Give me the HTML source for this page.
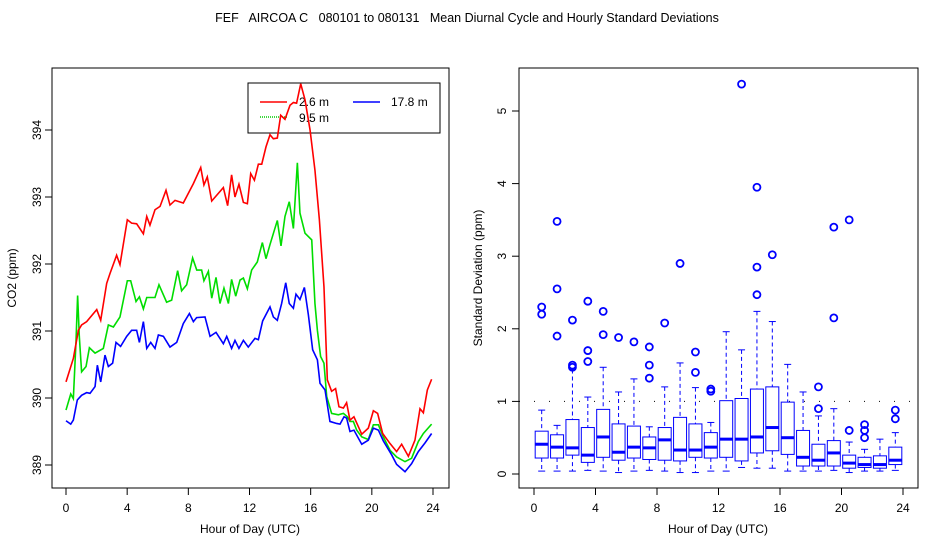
<!DOCTYPE html>
<html><head><meta charset="utf-8"><style>
body{margin:0;background:#fff}
svg{display:block;font-family:"Liberation Sans",sans-serif}
</style></head><body>
<svg id="c" width="936" height="540">
<text x="467" y="22" font-size="12.5" text-anchor="middle" style="white-space:pre" xml:space="preserve">FEF   AIRCOA C   080101 to 080131   Mean Diurnal Cycle and Hourly Standard Deviations</text>
<g id="left"></g>
<g id="right"></g>
</svg>
<script>
// ---- left chart data ----
const redHours=[0,0.48,0.81,1.02,1.35,2.01,2.27,2.66,2.88,3.31,3.53,4.01,4.29,4.62,5.06,5.28,5.49,5.82,6.15,6.54,6.8,7.13,7.67,8.33,8.81,9.02,9.24,9.53,10.29,10.57,10.83,11.05,11.31,11.6,11.86,12.08,12.32,12.58,12.8,13.08,13.34,13.56,13.82,14.04,14.32,14.65,14.87,15.08,15.35,15.63,15.96,16.28,16.57,16.87,17.09,17.37,17.63,17.85,18.14,18.35,18.57,18.83,19.34,19.77,20.1,20.38,20.71,21.19,21.62,21.95,22.39,22.82,23.15,23.37,23.63,23.91];
const redVals=[390.24,390.59,391.01,391.09,391.14,391.32,391.16,391.71,391.86,392.13,391.99,392.66,392.61,392.6,392.45,392.71,392.58,392.81,392.86,393.1,392.88,392.95,392.91,393.2,393.44,393.18,393.3,392.94,393.14,392.87,393.33,393.0,393.19,392.92,392.9,393.35,393.25,393.49,393.49,393.75,393.93,393.87,393.88,394.22,394.16,394.37,394.41,394.4,394.69,394.45,394.0,393.4,392.66,391.66,390.27,390.1,390.14,389.87,389.85,389.93,389.67,389.72,389.46,389.55,389.81,389.77,389.47,389.32,389.2,389.31,389.13,389.37,389.84,389.78,390.12,390.28];
const greenHours=[0,0.31,0.48,0.65,0.76,0.87,1.02,1.31,1.53,1.9,2.44,2.77,3.1,3.53,4.01,4.23,4.58,4.8,5.06,5.28,5.82,6.08,6.58,6.91,7.3,7.56,7.89,8.28,8.55,8.87,9.02,9.31,9.53,9.81,10.07,10.33,10.62,10.83,11.1,11.38,11.6,11.86,12.14,12.51,12.84,13.08,13.34,13.82,14.06,14.32,14.6,14.87,15.13,15.3,15.63,16.07,16.28,16.44,16.65,16.87,17.05,17.37,17.81,18.14,18.4,18.57,18.79,19.01,19.34,19.77,20.1,20.43,20.75,21.19,21.62,22.17,22.6,23.04,23.37,23.91];
const greenVals=[389.82,390.06,389.99,390.82,391.53,390.92,390.39,390.47,390.75,390.67,390.74,391.09,391.06,391.21,391.75,391.75,391.44,391.51,391.33,391.5,391.5,391.69,391.43,391.46,391.9,391.6,391.69,392.09,391.91,391.91,391.75,391.89,391.49,391.8,391.41,391.64,391.41,391.77,391.52,391.76,391.79,391.63,391.91,392.03,392.32,392.08,392.29,392.65,392.27,392.71,392.93,392.53,393.51,392.76,392.46,392.36,391.41,391.01,390.62,390.52,390.02,389.77,389.75,389.77,389.72,389.65,389.65,389.52,389.42,389.38,389.6,389.6,389.42,389.22,389.12,389.05,389.1,389.35,389.47,389.61];
const blueHours=[0,0.31,0.48,0.74,1.02,1.35,1.57,1.9,2.05,2.27,2.55,2.77,3.05,3.27,3.57,3.97,4.29,4.62,4.8,5.06,5.28,5.54,5.82,6.04,6.37,6.8,7.24,7.67,8.07,8.33,8.54,9.09,9.42,9.81,10.29,10.51,10.83,11.05,11.31,11.6,11.92,12.36,12.58,12.86,13.34,13.56,13.82,14.1,14.37,14.6,14.87,15.04,15.3,15.59,15.85,16.13,16.44,16.61,16.94,17.26,17.7,17.92,18.18,18.35,18.57,18.83,19.34,19.77,20.1,20.43,20.75,21.3,21.62,22.17,22.6,23.04,23.48,23.91];
const blueVals=[389.66,389.61,389.67,389.97,390.04,390.08,390.07,390.17,390.49,390.24,390.64,390.47,390.52,390.83,390.77,390.92,391.01,391.01,390.83,391.14,390.74,390.83,390.74,390.94,390.92,390.76,390.83,391.11,391.26,391.14,391.2,391.21,390.92,390.98,390.81,390.92,390.74,390.86,390.74,390.86,390.76,390.89,390.87,391.15,391.36,391.21,391.16,391.41,391.72,391.41,391.34,391.55,391.47,391.65,391.24,390.72,390.57,390.22,390.12,389.65,389.62,389.61,389.72,389.7,389.5,389.52,389.31,389.37,389.55,389.52,389.36,389.15,389.01,388.9,389.02,389.2,389.33,389.47];
const xTicks=[0,4,8,12,16,20,24];
const leftYTicks=[389,390,391,392,393,394];
// ---- right chart data ----
const boxHours=[0.5,1.5,2.5,3.5,4.5,5.5,6.5,7.5,8.5,9.5,10.5,11.5,12.5,13.5,14.5,15.5,16.5,17.5,18.5,19.5,20.5,21.5,22.5,23.5];
const whiskerLow=[0.04,0.04,0.04,0.05,0.04,0.02,0.04,0.05,0.04,0.02,0.02,0.04,0.04,0.09,0.08,0.08,0.04,0.04,0.04,0.05,0.02,0.04,0.04,0.05];
const q1=[0.22,0.22,0.26,0.16,0.23,0.19,0.22,0.2,0.19,0.18,0.23,0.22,0.23,0.18,0.29,0.32,0.27,0.11,0.11,0.11,0.08,0.09,0.08,0.13];
const medians=[0.41,0.37,0.36,0.26,0.51,0.3,0.37,0.36,0.47,0.33,0.33,0.37,0.48,0.48,0.51,0.64,0.5,0.23,0.19,0.29,0.15,0.13,0.13,0.19];
const q3=[0.59,0.54,0.75,0.64,0.89,0.69,0.66,0.51,0.64,0.78,0.69,0.57,1.01,1.04,1.17,1.2,0.99,0.6,0.41,0.46,0.26,0.23,0.25,0.37];
const whiskerHigh=[0.88,0.67,1.44,1.06,1.47,1.13,1.31,0.65,1.2,1.53,1.19,0.71,1.96,1.71,2.24,2.1,1.51,1.13,0.8,0.9,0.44,0.34,0.48,0.57];
const outliers=[[2.3,2.2],[3.48,2.55,1.9],[1.5,1.47,2.12],[2.38,1.7,1.55],[2.24,1.92],[1.88],[1.82],[1.75,1.5,1.32],[2.08],[2.9],[1.68,1.4],[1.17,1.14],[],[5.37],[3.95,2.85,2.47],[3.02],[],[],[1.2,0.9],[3.4,2.15],[3.5,0.6],[0.68,0.6,0.5],[],[0.88,0.76]];
const rightYTicks=[0,1,2,3,4,5];

const NS='http://www.w3.org/2000/svg';
function mk(parent,tag,attrs,txt){const e=document.createElementNS(NS,tag);for(const k in attrs)e.setAttribute(k,attrs[k]);if(txt!==undefined)e.textContent=txt;parent.appendChild(e);return e;}

// ---------- LEFT ----------
const L=document.getElementById('left');
const lx=h=>66+h*(433-66)/24;
const ly=v=>465-(v-389)*67;
let f=mk(L,'rect',{x:52,y:68,width:397,height:420,fill:'none',stroke:'#000'});


xTicks.forEach(t=>{
  let l=mk(L,'line',{x1:lx(t),x2:lx(t),y1:488,y2:495,stroke:'#000'});
  
  
  let tx=mk(L,'text',{x:lx(t),y:512,'font-size':12,'text-anchor':'middle'},t);
  
  
});
leftYTicks.forEach(t=>{
  let l=mk(L,'line',{x1:45,x2:52,y1:ly(t),y2:ly(t),stroke:'#000'});
  
  
  let tx=mk(L,'text',{x:0,y:0,'font-size':12,'text-anchor':'middle',transform:`translate(41,${ly(t)}) rotate(-90)`},t);
  
  
});
let xt=mk(L,'text',{x:250,y:533,'font-size':12,'text-anchor':'middle'},'Hour of Day (UTC)');


let yt=mk(L,'text',{x:0,y:0,'font-size':12,'text-anchor':'middle',transform:'translate(16,278) rotate(-90)'},'CO2 (ppm)');


// legend (drawn beneath series, as in reference)
const lg=mk(L,'g',{});


mk(lg,'rect',{x:248,y:83,width:192,height:50,fill:'#fff',stroke:'#000'});
let e1=mk(lg,'line',{x1:260,x2:287,y1:102,y2:102,stroke:'#f00','stroke-width':1.5});


mk(lg,'text',{x:299,y:106,'font-size':12},'2.6 m');
let e2=mk(lg,'line',{x1:353,x2:380,y1:102,y2:102,stroke:'#00f','stroke-width':1.5});


mk(lg,'text',{x:391,y:106,'font-size':12},'17.8 m');
let e3=mk(lg,'line',{x1:260,x2:287,y1:117,y2:117,stroke:'#0c0','stroke-width':1.5,'stroke-dasharray':'1,1'});


mk(lg,'text',{x:299,y:122,'font-size':12},'9.5 m');
function series(hs,vs,col,name){
  const p=mk(L,'polyline',{points:hs.map((h,i)=>lx(h)+','+ly(vs[i])).join(' '),fill:'none',stroke:col,'stroke-width':1.6});
  
  
}
series(greenHours,greenVals,'#00dd00','series-9-5m');
series(blueHours,blueVals,'#0000ff','series-17-8m');
series(redHours,redVals,'#ff0000','series-2-6m');

// ---------- RIGHT ----------
const R=document.getElementById('right');
const rx=h=>534+h*(903-534)/24;
const ry=v=>474-v*72.6;
let f2=mk(R,'rect',{x:519,y:68,width:399,height:420,fill:'none',stroke:'#000'});


xTicks.forEach(t=>{
  let l=mk(R,'line',{x1:rx(t),x2:rx(t),y1:488,y2:495,stroke:'#000'});
  
  
  let tx=mk(R,'text',{x:rx(t),y:512,'font-size':12,'text-anchor':'middle'},t);
  
  
});
rightYTicks.forEach(t=>{
  let l=mk(R,'line',{x1:512,x2:519,y1:ry(t),y2:ry(t),stroke:'#000'});
  
  
  let tx=mk(R,'text',{x:0,y:0,'font-size':12,'text-anchor':'middle',transform:`translate(506,${ry(t)}) rotate(-90)`},t);
  
  
});
let xt2=mk(R,'text',{x:718,y:533,'font-size':12,'text-anchor':'middle'},'Hour of Day (UTC)');


let yt2=mk(R,'text',{x:0,y:0,'font-size':12,'text-anchor':'middle',transform:'translate(482,278) rotate(-90)'},'Standard Deviation (ppm)');


let ref=mk(R,'line',{x1:519,x2:918,y1:ry(1),y2:ry(1),stroke:'#000','stroke-dasharray':'1,14'});


boxHours.forEach((h,i)=>{
  const g=mk(R,'g',{});
  
  
  const cx=rx(h),w=13;
  mk(g,'line',{x1:cx,x2:cx,y1:ry(whiskerHigh[i]),y2:ry(q3[i]),stroke:'#00f','stroke-width':1,'stroke-dasharray':'4,3'});
  mk(g,'line',{x1:cx,x2:cx,y1:ry(q1[i]),y2:ry(whiskerLow[i]),stroke:'#00f','stroke-width':1,'stroke-dasharray':'4,3'});
  mk(g,'line',{x1:cx-3.5,x2:cx+3.5,y1:ry(whiskerHigh[i]),y2:ry(whiskerHigh[i]),stroke:'#00f'});
  mk(g,'line',{x1:cx-3.5,x2:cx+3.5,y1:ry(whiskerLow[i]),y2:ry(whiskerLow[i]),stroke:'#00f'});
  mk(g,'rect',{x:cx-w/2,y:ry(q3[i]),width:w,height:ry(q1[i])-ry(q3[i]),fill:'#fff',stroke:'#00f'});
  mk(g,'line',{x1:cx-w/2,x2:cx+w/2,y1:ry(medians[i]),y2:ry(medians[i]),stroke:'#00f','stroke-width':3});
  outliers[i].forEach(o=>{
    const c=mk(g,'circle',{cx:cx,cy:ry(o),r:3.5,fill:'none',stroke:'#00f','stroke-width':1.8});
    
    
  });
});
</script>
</body></html>
